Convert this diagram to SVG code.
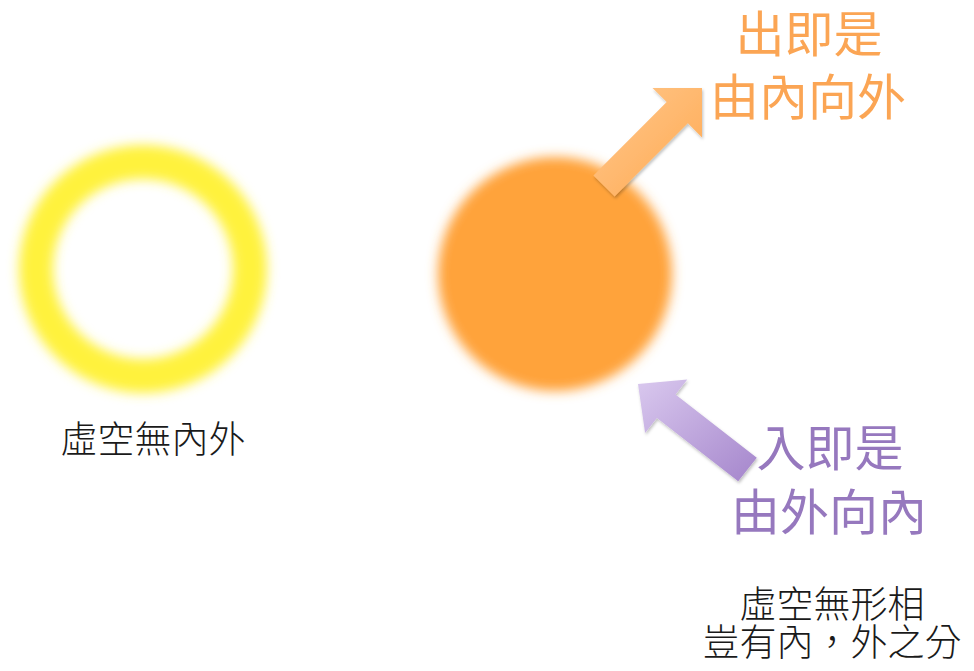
<svg xmlns="http://www.w3.org/2000/svg" width="974" height="671" viewBox="0 0 974 671">
<defs>
<style>
.cjk{font-family:"Noto Sans CJK TC","Noto Sans CJK SC",sans-serif;text-anchor:middle}
.big{font-size:49px;font-weight:400}
.small{font-size:37px;font-weight:300;fill:#1a1a1a}
</style>
<filter id="blur" x="-30%" y="-30%" width="160%" height="160%"><feGaussianBlur stdDeviation="6"/></filter>
<filter id="shadow" x="-20%" y="-20%" width="140%" height="140%"><feDropShadow dx="1" dy="2" stdDeviation="1.5" flood-color="#000" flood-opacity="0.25"/></filter>
<linearGradient id="og" x1="0" y1="0" x2="1" y2="1"><stop offset="0" stop-color="#FFC88C"/><stop offset="1" stop-color="#FFA952"/></linearGradient>
<linearGradient id="pg" x1="0" y1="0" x2="1" y2="1"><stop offset="0" stop-color="#D9C8EE"/><stop offset="1" stop-color="#A586CC"/></linearGradient>
</defs>
<rect width="974" height="671" fill="#fff"/>
<g id="empty-ring">
<circle cx="143" cy="269" r="107" fill="none" stroke="#FFF23C" stroke-width="34" filter="url(#blur)"/>
<text class="cjk small" x="153" y="453">虛空無內外</text>
</g>
<g id="orange-sphere">
<circle cx="555" cy="274" r="117" fill="#FFA33B" filter="url(#blur)"/>
</g>
<g id="connectors">
<polygon id="out-arrow" points="593.4,175.4 666.7,102.1 652.5,88 702,88 702,137.4 687.9,123.3 614.6,196.6" fill="url(#og)" filter="url(#shadow)"/>
<polygon id="in-arrow" points="756.8,457.7 675.5,394.5 687.3,379.6 638,384 645.1,433 656.9,418.1 738.2,481.3" fill="url(#pg)" filter="url(#shadow)"/>
</g>
<g id="out-label" fill="#FBA554">
<text class="cjk big" x="809" y="52">出即是</text>
<text class="cjk big" x="808" y="115">由內向外</text>
</g>
<g id="in-label" fill="#9678BE">
<text class="cjk big" x="830" y="466">入即是</text>
<text class="cjk big" x="829" y="530">由外向內</text>
</g>
<g id="note">
<text class="cjk small" x="832" y="618">虛空無形相</text>
<text class="cjk small" x="832" y="656">豈有內，外之分</text>
</g>
</svg>
